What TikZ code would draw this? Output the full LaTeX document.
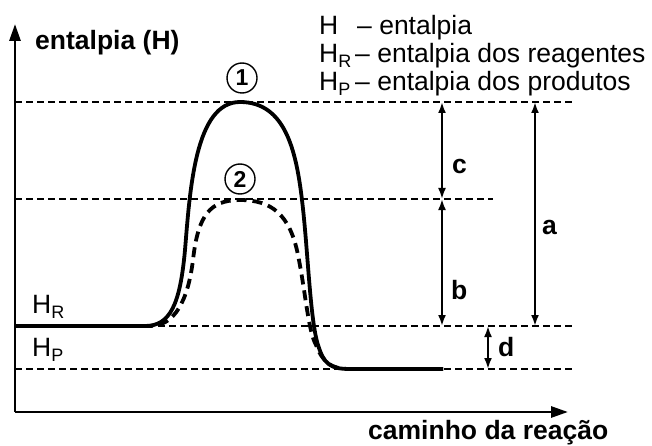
\documentclass[tikz,border=0pt]{standalone}
\usepackage{fontspec}
\setmainfont{Liberation Sans}
\usepackage{tikz}
\usetikzlibrary{arrows.meta}
\newcommand{\txtbig}{\fontsize{26.5}{30}\selectfont}
\newcommand{\txtnum}{\fontsize{23}{26}\selectfont\bfseries}
\newcommand{\enth}[1]{H\raisebox{-5pt}{\fontsize{18}{18}\selectfont #1}}
\tikzset{
  axis/.style={line width=2.8pt,-{Triangle[length=17pt,width=11pt]}},
  level/.style={line width=1.8pt,dash pattern=on 7pt off 4pt},
  curve-solid/.style={line width=3.8pt,line join=round},
  curve-dash/.style={line width=3.8pt,dash pattern=on 10pt off 6pt},
  arrow-dim/.style={line width=2.4pt,{Latex[length=11pt,width=8pt]}-{Latex[length=11pt,width=8pt]}},
  lbl-text/.style={inner sep=0pt,anchor=base west,font=\txtbig},
  lbl-bold/.style={inner sep=0pt,font=\txtbig\bfseries},
  lbl-num/.style={draw,circle,line width=1.4pt,minimum size=30pt,inner sep=0pt,font=\txtnum},
}

\begin{document}
\begin{tikzpicture}[x=1pt,y=-1pt]
  \useasboundingbox (0,0) rectangle (652,446);
  % eixos
  \coordinate (o)    at (15,412);
  \coordinate (ytip) at (15,24);
  \coordinate (xtip) at (568,412);
  \draw[axis] (o) -- (ytip);
  \draw[axis] (o) -- (xtip);
  \node[lbl-bold,anchor=base west] (ylab) at (35,50)  {entalpia (H)};
  \node[lbl-bold,anchor=base west] (xlab) at (368,439) {caminho da reação};
  % niveis
  \draw[level] (15,102) -- (575,102);
  \draw[level] (15,199) -- (493,199);
  \draw[level] (15,326) -- (575,326);
  \draw[level] (15,369) -- (575,369);
  \node[lbl-text] (hr) at (32,313) {\enth{R}};
  \node[lbl-text] (hp) at (32,356) {\enth{P}};
  % caminho 1
  \draw[curve-solid] (15,326) -- (145,326)
    .. controls (170,326) and (180,305) .. (185,250)
    .. controls (190,190) and (195,102) .. (240,102)
    .. controls (285,102) and (296,150) .. (302,200)
    .. controls (308,250) and (310,320) .. (318,345)
    .. controls (324,364) and (330,369) .. (350,369) -- (443,369);
  % caminho 2
  \draw[curve-dash] (15,326) -- (150,326)
    .. controls (175,326) and (188,300) .. (193,260)
    .. controls (198,215) and (210,200) .. (240,200)
    .. controls (272,200) and (290,215) .. (298,255)
    .. controls (306,295) and (308,330) .. (316,345)
    .. controls (323,362) and (330,369) .. (350,369) -- (443,369);
  \node[lbl-num] (n1) at (242,78)  {1};
  \node[lbl-num] (n2) at (240,179) {2};
  % cotas
  \coordinate (c-top) at (442,102);
  \coordinate (c-mid) at (442,199);
  \coordinate (c-hr)  at (442,326);
  \coordinate (a-top) at (535,102);
  \coordinate (a-hr)  at (535,326);
  \coordinate (d-hr)  at (488,326);
  \coordinate (d-hp)  at (488,369);
  \draw[arrow-dim] (c-top) -- node[lbl-bold,pos=0.67,anchor=west,xshift=9pt] (lc) {c} (c-mid);
  \draw[arrow-dim] (c-mid) -- node[lbl-bold,pos=0.72,anchor=west,xshift=8pt] (lb) {b} (c-hr);
  \draw[arrow-dim] (a-top) -- node[lbl-bold,pos=0.56,anchor=west,xshift=6pt] (la) {a} (a-hr);
  \draw[arrow-dim] (d-hr)  -- node[lbl-bold,pos=0.5,anchor=west,xshift=9pt]  (ld) {d} (d-hp);
  % legenda
  \node[lbl-text] (leg-h)  at (319,35) {H};
  \node[lbl-text] (leg-ht) at (357,35) {– entalpia};
  \node[lbl-text] (leg-r)  at (319,63) {\enth{R}};
  \node[lbl-text] (leg-rt) at (355,63) {– entalpia dos reagentes};
  \node[lbl-text] (leg-p)  at (319,91) {\enth{P}};
  \node[lbl-text] (leg-pt) at (355,91) {– entalpia dos produtos};
\end{tikzpicture}
\end{document}
